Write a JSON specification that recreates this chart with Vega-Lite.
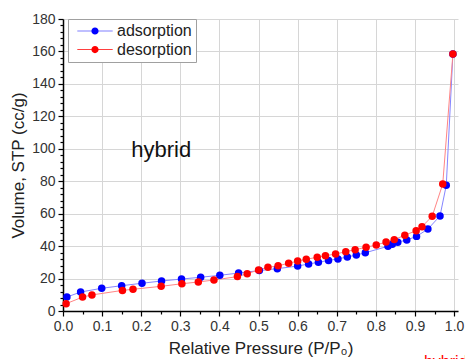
{
  "$schema": "https://vega.github.io/schema/vega-lite/v6.json",
  "width": 395,
  "height": 292,
  "autosize": {"type": "none"},
  "padding": {"left": 63, "top": 19, "right": 7, "bottom": 48},
  "background": "white",
  "config": {
    "view": {"stroke": null},
    "font": "Liberation Sans",
    "axis": {
      "domainColor": "#000000",
      "domainWidth": 1.5,
      "tickColor": "#000000",
      "tickWidth": 1.2,
      "gridColor": "#d6d6d6",
      "gridWidth": 1,
      "labelFont": "Liberation Sans",
      "labelFontSize": 14,
      "labelColor": "#333333",
      "labelFlush": false,
      "labelOverlap": false,
      "titleFont": "Liberation Sans",
      "titleFontSize": 17,
      "titleFontWeight": "normal",
      "titleColor": "#222222"
    }
  },
  "datasets": {
    "isotherm": [
      {"pp": 0.010, "vol": 8.6, "branch": "adsorption"},
      {"pp": 0.045, "vol": 11.7, "branch": "adsorption"},
      {"pp": 0.099, "vol": 14.0, "branch": "adsorption"},
      {"pp": 0.150, "vol": 15.6, "branch": "adsorption"},
      {"pp": 0.202, "vol": 17.1, "branch": "adsorption"},
      {"pp": 0.252, "vol": 18.5, "branch": "adsorption"},
      {"pp": 0.303, "vol": 19.7, "branch": "adsorption"},
      {"pp": 0.352, "vol": 20.8, "branch": "adsorption"},
      {"pp": 0.401, "vol": 22.0, "branch": "adsorption"},
      {"pp": 0.449, "vol": 23.4, "branch": "adsorption"},
      {"pp": 0.502, "vol": 24.9, "branch": "adsorption"},
      {"pp": 0.548, "vol": 26.1, "branch": "adsorption"},
      {"pp": 0.600, "vol": 27.7, "branch": "adsorption"},
      {"pp": 0.628, "vol": 29.0, "branch": "adsorption"},
      {"pp": 0.653, "vol": 30.0, "branch": "adsorption"},
      {"pp": 0.679, "vol": 31.2, "branch": "adsorption"},
      {"pp": 0.703, "vol": 32.1, "branch": "adsorption"},
      {"pp": 0.727, "vol": 33.3, "branch": "adsorption"},
      {"pp": 0.750, "vol": 34.5, "branch": "adsorption"},
      {"pp": 0.773, "vol": 35.9, "branch": "adsorption"},
      {"pp": 0.831, "vol": 39.9, "branch": "adsorption"},
      {"pp": 0.842, "vol": 41.1, "branch": "adsorption"},
      {"pp": 0.856, "vol": 42.4, "branch": "adsorption"},
      {"pp": 0.879, "vol": 43.8, "branch": "adsorption"},
      {"pp": 0.904, "vol": 46.0, "branch": "adsorption"},
      {"pp": 0.933, "vol": 50.5, "branch": "adsorption"},
      {"pp": 0.964, "vol": 58.6, "branch": "adsorption"},
      {"pp": 0.980, "vol": 77.5, "branch": "adsorption"},
      {"pp": 0.997, "vol": 158.4, "branch": "adsorption"},
      {"pp": 0.008, "vol": 4.5, "branch": "desorption"},
      {"pp": 0.050, "vol": 8.6, "branch": "desorption"},
      {"pp": 0.074, "vol": 9.9, "branch": "desorption"},
      {"pp": 0.152, "vol": 12.7, "branch": "desorption"},
      {"pp": 0.179, "vol": 13.4, "branch": "desorption"},
      {"pp": 0.251, "vol": 15.2, "branch": "desorption"},
      {"pp": 0.304, "vol": 16.8, "branch": "desorption"},
      {"pp": 0.346, "vol": 17.9, "branch": "desorption"},
      {"pp": 0.386, "vol": 19.1, "branch": "desorption"},
      {"pp": 0.446, "vol": 21.2, "branch": "desorption"},
      {"pp": 0.471, "vol": 23.0, "branch": "desorption"},
      {"pp": 0.500, "vol": 25.3, "branch": "desorption"},
      {"pp": 0.524, "vol": 26.9, "branch": "desorption"},
      {"pp": 0.550, "vol": 27.9, "branch": "desorption"},
      {"pp": 0.577, "vol": 29.4, "branch": "desorption"},
      {"pp": 0.600, "vol": 30.8, "branch": "desorption"},
      {"pp": 0.622, "vol": 31.9, "branch": "desorption"},
      {"pp": 0.650, "vol": 33.1, "branch": "desorption"},
      {"pp": 0.671, "vol": 34.1, "branch": "desorption"},
      {"pp": 0.697, "vol": 35.1, "branch": "desorption"},
      {"pp": 0.723, "vol": 36.6, "branch": "desorption"},
      {"pp": 0.747, "vol": 37.8, "branch": "desorption"},
      {"pp": 0.775, "vol": 39.3, "branch": "desorption"},
      {"pp": 0.801, "vol": 40.7, "branch": "desorption"},
      {"pp": 0.826, "vol": 42.5, "branch": "desorption"},
      {"pp": 0.847, "vol": 44.0, "branch": "desorption"},
      {"pp": 0.874, "vol": 46.7, "branch": "desorption"},
      {"pp": 0.903, "vol": 49.5, "branch": "desorption"},
      {"pp": 0.918, "vol": 52.0, "branch": "desorption"},
      {"pp": 0.944, "vol": 58.4, "branch": "desorption"},
      {"pp": 0.971, "vol": 78.3, "branch": "desorption"},
      {"pp": 0.997, "vol": 158.4, "branch": "desorption"}
    ]
  },
  "resolve": {"axis": {"x": "independent", "y": "independent"}},
  "layer": [
    {
      "data": {"name": "isotherm"},
      "transform": [{"filter": "datum.branch == 'adsorption'"}],
      "mark": {"type": "line", "strokeWidth": 1, "color": "#8585ff", "clip": true},
      "encoding": {
        "x": {
          "field": "pp",
          "type": "quantitative",
          "scale": {"domain": [0, 1.01], "nice": false, "zero": false},
          "axis": {
            "orient": "bottom",
            "title": "Relative Pressure (P/P₀)",
            "values": [0, 0.1, 0.2, 0.3, 0.4, 0.5, 0.6, 0.7, 0.8, 0.9, 1.0],
            "format": ".1f",
            "grid": true,
            "tickSize": 5,
            "labelPadding": 3,
            "titlePadding": 7
          }
        },
        "y": {
          "field": "vol",
          "type": "quantitative",
          "scale": {"domain": [0, 180], "nice": false},
          "axis": {
            "orient": "left",
            "title": "Volume, STP (cc/g)",
            "values": [0, 20, 40, 60, 80, 100, 120, 140, 160, 180],
            "format": "d",
            "grid": true,
            "tickSize": 5,
            "labelPadding": 3,
            "titlePadding": 4
          }
        },
        "order": {"field": "pp", "type": "quantitative"}
      }
    },
    {
      "data": {"name": "isotherm"},
      "transform": [{"filter": "datum.branch == 'desorption'"}],
      "mark": {"type": "line", "strokeWidth": 1, "color": "#ff8585", "clip": true},
      "encoding": {
        "x": {"field": "pp", "type": "quantitative", "axis": null},
        "y": {"field": "vol", "type": "quantitative", "axis": null},
        "order": {"field": "pp", "type": "quantitative"}
      }
    },
    {
      "data": {"name": "isotherm"},
      "mark": {"type": "point", "filled": true, "size": 56, "opacity": 1, "strokeWidth": 0, "shape": "circle"},
      "encoding": {
        "x": {
          "field": "pp",
          "type": "quantitative",
          "axis": {
            "orient": "bottom",
            "title": null,
            "values": [0.05, 0.15, 0.25, 0.35, 0.45, 0.55, 0.65, 0.75, 0.85, 0.95],
            "labels": false,
            "domain": false,
            "grid": false,
            "tickSize": 3
          }
        },
        "y": {
          "field": "vol",
          "type": "quantitative",
          "axis": {
            "orient": "left",
            "title": null,
            "values": [4, 8, 12, 16, 24, 28, 32, 36, 44, 48, 52, 56, 64, 68, 72, 76, 84, 88, 92, 96, 104, 108, 112, 116, 124, 128, 132, 136, 144, 148, 152, 156, 164, 168, 172, 176],
            "labels": false,
            "domain": false,
            "grid": false,
            "tickSize": 3
          }
        },
        "color": {
          "field": "branch",
          "type": "nominal",
          "scale": {"domain": ["adsorption", "desorption"], "range": ["#0000ff", "#ff0000"]},
          "legend": {
            "title": null,
            "orient": "none",
            "legendX": 5,
            "legendY": 0,
            "strokeColor": "#a0a0a0",
            "fillColor": "#ffffff",
            "padding": 4,
            "rowPadding": 2.6,
            "labelFont": "Liberation Sans",
            "labelFontSize": 16,
            "labelColor": "#222222",
            "labelOffset": 32,
            "symbolOffset": -3,
            "symbolSize": 64,
            "symbolStrokeWidth": 0,
            "symbolType": "M0.075,-0.07 L8.925,-0.07 L8.925,0.07 L0.075,0.07 Z M3.6,0 A0.9,0.9 0 1,1 5.4,0 A0.9,0.9 0 1,1 3.6,0 Z"
          }
        }
      }
    },
    {
      "data": {"values": [{"note": "hybrid"}]},
      "mark": {"type": "text", "fontSize": 22, "font": "Liberation Sans", "color": "#111111", "align": "center", "baseline": "alphabetic"},
      "encoding": {
        "text": {"field": "note"},
        "x": {"datum": 0.251, "type": "quantitative", "axis": null},
        "y": {"datum": 95, "type": "quantitative", "axis": null}
      }
    },
    {
      "data": {"values": [{"note": "hybrid"}]},
      "mark": {"type": "text", "fontSize": 16, "font": "Liberation Sans", "color": "#ff0000", "align": "left", "baseline": "top", "dy": 43},
      "encoding": {
        "text": {"field": "note"},
        "x": {"datum": 0.923, "type": "quantitative", "axis": null},
        "y": {"datum": 0, "type": "quantitative", "axis": null}
      }
    }
  ]
}
